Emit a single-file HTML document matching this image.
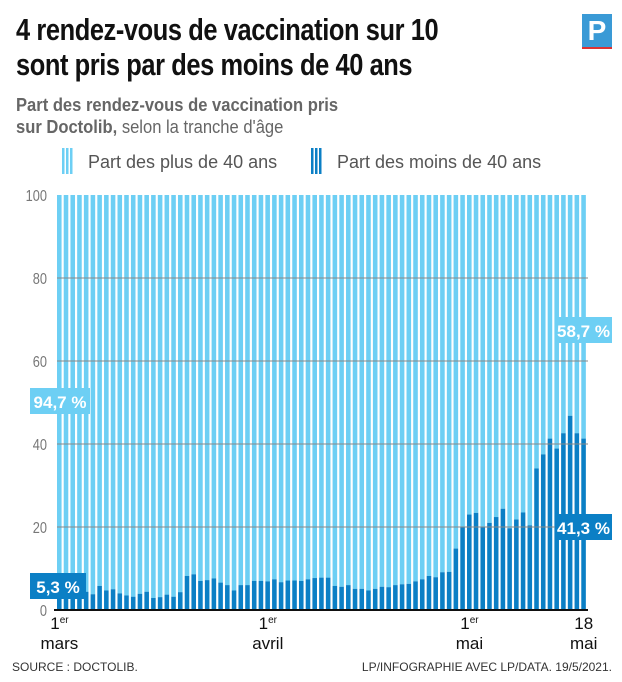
<!DOCTYPE html>
<html><head><meta charset="utf-8"><style>
body{margin:0;background:#fff;width:622px;height:682px;overflow:hidden;font-family:"Liberation Sans",sans-serif;position:relative}
.t{position:absolute;left:16px;font-weight:bold;font-size:31px;color:#111;transform:scaleX(0.82);transform-origin:left top;white-space:nowrap;letter-spacing:-0.5px}
.sub{position:absolute;left:16px;top:94px;font-size:18px;color:#666;line-height:22px;transform:scaleX(0.92);transform-origin:left top;white-space:nowrap}
</style></head><body>
<div class="t" style="top:12px">4 rendez-vous de vaccination sur 10</div>
<div class="t" style="top:47px">sont pris par des moins de 40 ans</div>
<div style="position:absolute;left:582px;top:14px;width:30px;height:33px;background:#3a9ad6;color:#fff;font-weight:bold;font-size:28px;text-align:center;line-height:33px;border-bottom:2px solid #d33">P</div>
<div class="sub"><b>Part des rendez-vous de vaccination pris<br>sur Doctolib,</b> selon la tranche d'âge</div>
<svg id="c" width="622" height="682" style="position:absolute;left:0;top:0"></svg>
<script>
const categories=[];for(let i=0;i<79;i++)categories.push(i);
const youngShare=[5.3,4.8,4.5,4.2,4.4,3.8,5.8,4.7,5.0,4.0,3.5,3.2,3.9,4.4,2.9,3.1,3.7,3.2,4.3,8.2,8.6,7.0,7.2,7.6,6.6,6.0,4.7,6.0,6.0,7.0,7.0,6.9,7.4,6.7,7.1,7.1,7.0,7.4,7.7,7.8,7.8,5.8,5.6,6.0,5.1,5.1,4.7,5.1,5.6,5.5,6.0,6.2,6.3,6.9,7.4,8.2,7.9,9.1,9.2,14.8,19.9,23.0,23.4,19.9,21.0,22.4,24.4,19.7,21.8,23.5,20.4,34.1,37.5,41.3,38.9,42.6,46.8,42.6,41.3];
const yTicks=[0,20,40,60,80,100];
const xLabels=[{i:0,a:"1",b:"er",c:"mars"},{i:31,a:"1",b:"er",c:"avril"},{i:61,a:"1",b:"er",c:"mai"},{i:78,a:"18",b:"",c:"mai"}];
const L="#6dcff4",D="#0b7fc5";
const svg=document.getElementById('c'),NS="http://www.w3.org/2000/svg";
const x0=57,x1=588,yb=610,yt=195;
const step=(x1-x0)/categories.length;
const X=i=>x0+i*step, Y=v=>yb-(v/100)*(yb-yt);
function mk(t,a,p){const e=document.createElementNS(NS,t);for(const k in a)e.setAttribute(k,a[k]);(p||svg).appendChild(e);return e;}
for(let k=0;k<3;k++){let r=mk('rect',{x:62+k*4,y:148,width:2.5,height:26,fill:L});}
for(let k=0;k<3;k++){let r=mk('rect',{x:311+k*4,y:148,width:2.5,height:26,fill:D});}
let l1=mk('text',{x:88,y:168,'font-size':18,fill:'#555'});l1.textContent="Part des plus de 40 ans";

let l2=mk('text',{x:337,y:168,'font-size':18,fill:'#555'});l2.textContent="Part des moins de 40 ans";

categories.forEach((c,i)=>{
 const w=step*0.68,x=X(i);
 let a=mk('rect',{x:x,y:Y(100),width:w,height:Y(youngShare[i])-Y(100),fill:L});
 
 let b=mk('rect',{x:x,y:Y(youngShare[i]),width:w,height:yb-Y(youngShare[i]),fill:D});
 
});
yTicks.forEach(v=>{
 if(v>0&&v<100){let g=mk('line',{x1:x0,x2:x1,y1:Y(v),y2:Y(v),stroke:'#888','stroke-width':1});}
 let t=mk('text',{x:47,y:Y(v)+6,'font-size':16,fill:'#777','text-anchor':'end',transform:`translate(47 0) scale(0.8 1) translate(-47 0)`});t.textContent=v;
 
});
let ax=mk('line',{x1:x0-3,x2:x1,y1:yb,y2:yb,stroke:'#111','stroke-width':2});

xLabels.forEach(o=>{
 const cx=X(o.i)+step*0.36;
 let t=mk('text',{x:cx,y:629,'font-size':17,fill:'#111','text-anchor':'middle'});
 
 let s1=mk('tspan',{},t);s1.textContent=o.a;
 if(o.b){let s2=mk('tspan',{'font-size':10,dy:-6},t);s2.textContent=o.b;}
 let t2=mk('text',{x:cx,y:649,'font-size':17,fill:'#111','text-anchor':'middle'});t2.textContent=o.c;
 
});
function tag(x,y,w,txt,col,name){let r=mk('rect',{x:x,y:y,width:w,height:26,fill:col});
 let t=mk('text',{x:x+w/2,y:y+20,'font-size':17,'font-weight':'bold',fill:'#fff','text-anchor':'middle'});t.textContent=txt;}
const n=youngShare.length;
tag(30,388,60,(100-youngShare[0]).toFixed(1).replace('.',',')+" %",L,'label-start-over40');
tag(30,573,56,youngShare[0].toFixed(1).replace('.',',')+" %",D,'label-start-under40');
tag(555,317,57,(100-youngShare[n-1]).toFixed(1).replace('.',',')+" %",L,'label-end-over40');
tag(555,514,57,youngShare[n-1].toFixed(1).replace('.',',')+" %",D,'label-end-under40');
let s=mk('text',{x:12,y:671,'font-size':12,fill:'#333'});s.textContent="SOURCE : DOCTOLIB.";
let cr=mk('text',{x:612,y:671,'font-size':12,fill:'#333','text-anchor':'end'});cr.textContent="LP/INFOGRAPHIE AVEC LP/DATA.  19/5/2021.";
</script>
</body></html>
